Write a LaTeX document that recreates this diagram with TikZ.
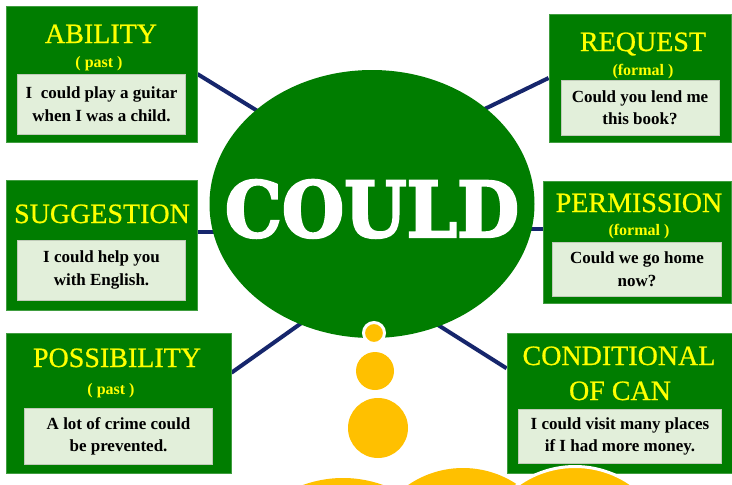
\documentclass[tikz,border=0pt]{standalone}
\usepackage{fontspec}
\setmainfont{Liberation Serif}
\newfontfamily\headfont{Liberation Serif}[FakeBold=0.7]
\newfontfamily\heavyfont{DejaVu Serif}[BoldFeatures={FakeBold=3}]
\usetikzlibrary{shapes.geometric,positioning,backgrounds}
\definecolor{boxgreen}{RGB}{0,125,0}
\definecolor{paleGreen}{RGB}{226,239,218}
\definecolor{headYellow}{RGB}{255,255,0}
\definecolor{dotYellow}{RGB}{255,192,0}
\definecolor{linkNavy}{RGB}{22,38,108}

\tikzset{
  usebox/.style={rectangle, fill=boxgreen, draw=boxgreen!75!white, line width=0.8pt, inner sep=0pt},
  examplebox/.style={rectangle, fill=paleGreen, draw=paleGreen!85!black, line width=0.4pt,
    inner sep=0pt, align=center, font=\bfseries\fontsize{17}{22.5}\selectfont},
  usetitle/.style={text=headYellow, inner sep=0pt, anchor=base, font=\headfont\fontsize{28}{30}\selectfont},
  usenote/.style={text=headYellow, inner sep=0pt, anchor=base, font=\bfseries\fontsize{16}{18}\selectfont},
  link/.style={draw=linkNavy, line width=4pt},
  dot/.style={circle, fill=dotYellow, inner sep=0pt}
}

\begin{document}
\begin{tikzpicture}[x=1pt,y=-1pt]
\useasboundingbox (0,0) rectangle (732,485);
\clip (0,0) rectangle (732,485);

% the big green ellipse
\node (could) [ellipse, fill=boxgreen, minimum width=325pt, minimum height=268pt, inner sep=0pt] at (372,204) {};
\node (could-text) [anchor=base, text=white, inner sep=0pt,
    font=\heavyfont\bfseries\fontsize{77}{77}\selectfont] at (372,237) {\scalebox{0.93}[1]{COULD}};

% left column
\node (ability) [usebox, minimum width=191pt, minimum height=136pt] at (101.5,74) {};
\node (ability-title) [usetitle] at (101,43) {ABILITY};
\node (ability-note) [usenote] at (99,67) {( past )};
\node (ability-ex) [examplebox, minimum width=168pt, minimum height=60pt,
    above=8pt of ability.south] {I\ \ could play a guitar\\when I was a child.};

\node (suggestion) [usebox, minimum width=191pt, minimum height=130pt] at (101.5,245) {};
\node (suggestion-title) [usetitle] at (102,223) {SUGGESTION};
\node (suggestion-ex) [examplebox, minimum width=168pt, minimum height=60pt,
    above=10pt of suggestion.south] {I could help you\\with English.};

\node (possibility) [usebox, minimum width=225pt, minimum height=140pt] at (118.5,403) {};
\node (possibility-title) [usetitle] at (117,367) {POSSIBILITY};
\node (possibility-note) [usenote] at (111,394) {( past )};
\node (possibility-ex) [examplebox, minimum width=188pt, minimum height=56pt,
    above=9pt of possibility.south] {A lot of crime could\\be prevented.};

% right column
\node (request) [usebox, minimum width=182pt, minimum height=128pt] at (640,78) {};
\node (request-title) [usetitle] at (643,51) {REQUEST};
\node (request-note) [usenote] at (643,75) {(formal )};
\node (request-ex) [examplebox, minimum width=158pt, minimum height=55pt,
    above=7pt of request.south] {Could you lend me\\this book?};

\node (permission) [usebox, minimum width=188pt, minimum height=122pt] at (637,242) {};
\node (permission-title) [usetitle] at (639,212) {PERMISSION};
\node (permission-note) [usenote] at (639,235) {(formal )};
\node (permission-ex) [examplebox, minimum width=169pt, minimum height=54pt,
    above=7pt of permission.south] {Could we go home\\now?};

\node (conditional) [usebox, minimum width=226pt, minimum height=140pt] at (620,403) {};
\node (conditional-title) [usetitle] at (619,365) {CONDITIONAL};
\node (conditional-title2) [usetitle] at (620,400) {OF CAN};
\node (conditional-ex) [examplebox, minimum width=203pt, minimum height=54pt,
    above=10pt of conditional.south] {I could visit many places\\if I had more money.};

% links, behind everything
\begin{scope}[on background layer]
\fill[white] (0,0) rectangle (732,485);
\draw[link, shorten >=-15pt] (ability.east) -- (could.141);
\draw[link, shorten <=-15pt] (could.190) -- (could.190 -| suggestion.east);
\draw[link, shorten >=-15pt] (possibility.15) -- (could.239);
\draw[link, shorten >=-15pt] (request.west) -- (could.40);
\draw[link, shorten <=-15pt] (could.351) -- (could.351 -| permission.west);
\draw[link, shorten >=-15pt] (conditional.163) -- (could.299);
\end{scope}

% yellow bubbles
\node (dot-1) [dot, draw=white, line width=3pt, minimum size=21pt] at (374,333) {};
\node (dot-2) [dot, minimum size=38pt] at (375,371) {};
\node (dot-3) [dot, minimum size=60pt] at (378,428) {};
\node (dot-4) [dot, minimum size=236pt] at (343,596) {};
\node (dot-5) [dot, minimum size=194pt] at (463,565) {};
\node (dot-6) [dot, draw=white, line width=3pt, minimum size=197pt] at (575,565) {};
\end{tikzpicture}
\end{document}
